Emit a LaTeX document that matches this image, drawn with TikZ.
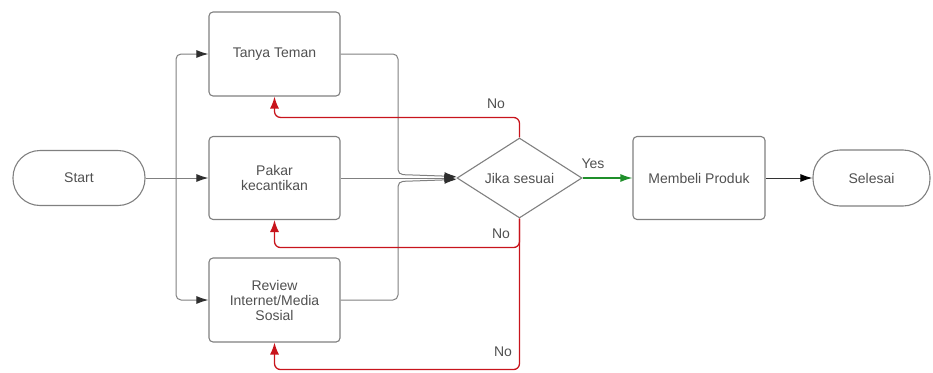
\documentclass[tikz,border=0pt]{standalone}
\usepackage{fontspec}
\setmainfont{Liberation Sans}
\usetikzlibrary{shapes.geometric,arrows.meta}
\definecolor{linegray}{HTML}{808080}
\definecolor{textgray}{HTML}{505050}
\definecolor{tipgray}{HTML}{2E2E2E}
\definecolor{nored}{HTML}{C8141C}
\definecolor{yesgreen}{HTML}{1F8F2A}

\begin{document}
\begin{tikzpicture}[
  x=1pt, y=-1pt,
  font=\fontsize{14}{15}\selectfont,
  box_node/.style={rectangle, draw=linegray, line width=1.1pt, rounded corners=4pt, text=textgray, align=center, minimum width=131pt, minimum height=84pt},
  term_node/.style={rectangle, draw=linegray, line width=1.1pt, rounded corners=27pt, text=textgray, minimum height=55pt},
  ask_node/.style={diamond, aspect=1.56, draw=linegray, line width=1.1pt, text=textgray, inner sep=0pt, minimum width=125pt, minimum height=80pt},
  lbl_node/.style={text=textgray, inner sep=0pt},
  flow_line/.style={draw=linegray, line width=1pt, rounded corners=5pt, -{Latex[length=12pt, width=8pt, color=tipgray]}},
  no_line/.style={draw=nored, line width=1.3pt, rounded corners=6pt, -{Latex[length=12pt, width=9pt]}},
  yes_line/.style={draw=yesgreen, line width=1.2pt, -{Latex[length=12pt, width=8pt]}},
]
\useasboundingbox (0,0) rectangle (933,372);

\draw (79,178) node (start) [term_node, minimum width=132pt] {Start};
\draw (274.5,54) node (tanya) [box_node] {Tanya Teman};
\draw (274.5,178) node (pakar) [box_node, minimum height=83pt] {Pakar\\kecantikan};
\draw (274.5,300) node (review) [box_node] {Review\\Internet/Media\\Sosial};
\draw (519.5,178) node (jika) [ask_node] {Jika sesuai};
\draw (699,178) node (beli) [box_node, minimum width=132pt, minimum height=83pt] {Membeli Produk};
\draw (871.5,178) node (selesai) [term_node, minimum width=117pt, minimum height=56pt] {Selesai};

\coordinate (split) at (176,178);
\draw[flow_line, -] (start.east) -- (split);
\draw[flow_line] (split) |- (tanya.west);
\draw[flow_line] (split) -- (pakar.west);
\draw[flow_line] (split) |- (review.west);

\draw[flow_line] (tanya.east) -| (398,174.5) -- ([yshift=1.5pt]jika.west);
\draw[flow_line] (pakar.east) -- (jika.west);
\draw[flow_line] (review.east) -| (398,181.5) -- ([yshift=-1.5pt]jika.west);

\draw[no_line] (jika.north) -- ++(0,-20) -| (tanya.south);
\draw[no_line] (jika.south) -- ++(0,29) -| (pakar.south);
\draw[no_line] (jika.south) -- ++(0,151) -| (review.south);
\draw (496,104) node (no_a) [lbl_node] {No};
\draw (501,234) node (no_b) [lbl_node] {No};
\draw (503,352) node (no_c) [lbl_node] {No};

\draw[yes_line] (jika.east) -- (beli.west);
\draw (593,164) node (yes) [lbl_node] {Yes};
\draw[flow_line, -{Latex[length=12pt, width=8pt, color=black]}, draw=black!80] (beli.east) -- (selesai.west);
\end{tikzpicture}
\end{document}
